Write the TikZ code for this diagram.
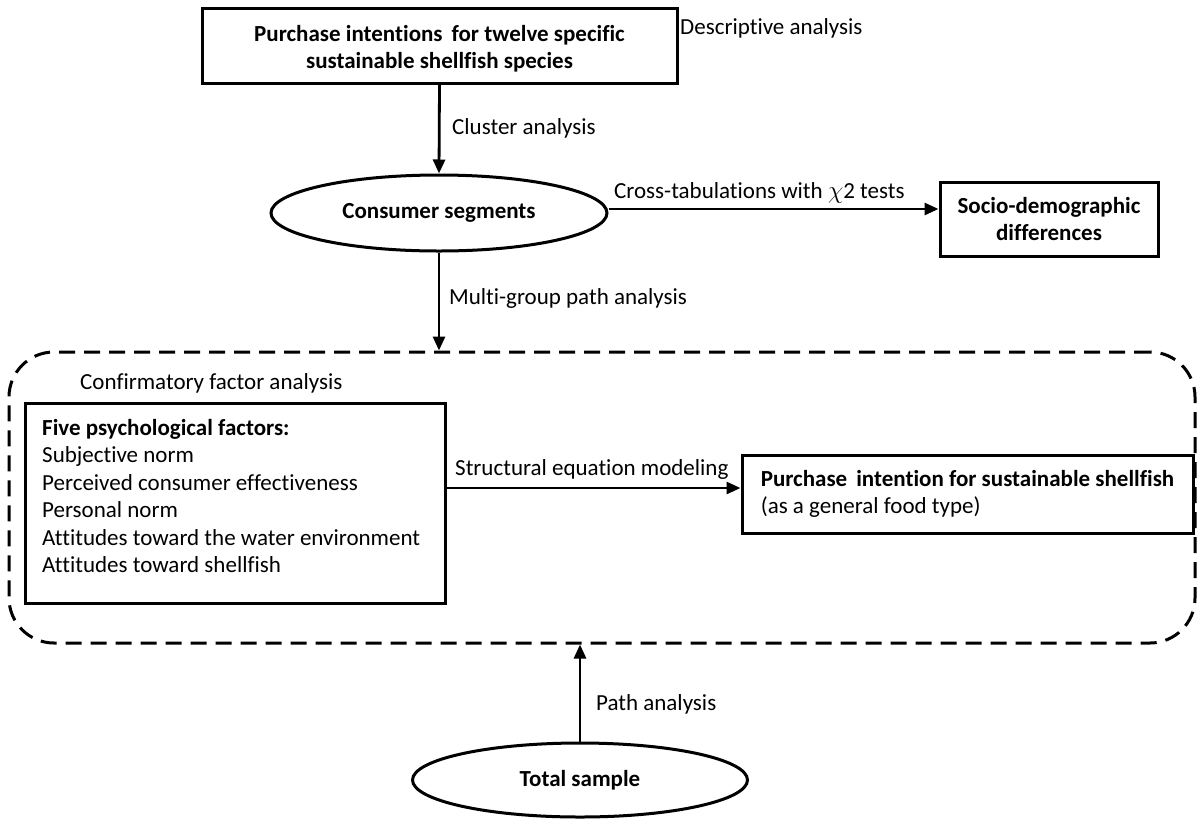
\documentclass[tikz,border=0pt]{standalone}
\usepackage{fontspec}
\setmainfont{Carlito}[Ligatures=NoCommon]
\usetikzlibrary{arrows.meta,shapes.geometric,calc}
\begin{document}
\begin{tikzpicture}[x=1pt,y=-1pt,
  every node/.style={font=\fontsize{23}{27.5}\selectfont, text=black},
  boxnode/.style={draw, line width=3pt, rectangle, inner sep=0pt},
  ellnode/.style={draw, line width=3pt, ellipse, inner sep=0pt, font=\fontsize{23}{27.5}\selectfont\bfseries},
  arr/.style={line width=2.8pt, -{Triangle[length=14pt,width=12pt]}},
  lab/.style={anchor=base west, inner sep=0pt},
  grpbox/.style={draw, line width=3pt, dash pattern=on 16pt off 9pt, rounded corners=45pt, rectangle, inner sep=0pt}
]
\useasboundingbox (0,0) rectangle (1199,820);

% nodes
\node[boxnode, minimum width=475pt, minimum height=75pt] (top) at (439.5,45.5) {};
\node[align=center, inner sep=0pt, font=\fontsize{23}{27}\selectfont\bfseries] (toptxt) at (439.5,49)
  {Purchase intentions\, for twelve specific\\sustainable shellfish species};
\node[ellnode, minimum width=336pt, minimum height=76pt] (cons) at (439,213) {Consumer segments};
\node[boxnode, minimum width=218pt, minimum height=74pt, align=center, font=\fontsize{23}{26.5}\selectfont\bfseries] (socio) at (1049,219)
  {Socio-demographic\\differences};
\node[grpbox, minimum width=1186pt, minimum height=291pt] (grp) at (602,497.5) {};
\node[boxnode, minimum width=420pt, minimum height=200pt] (fac) at (235,503) {};
\node[anchor=north west, align=left, inner sep=0pt] (factxt) at (42,419)
  {\textbf{Five psychological factors:}\\Subjective norm\\Perceived consumer effectiveness\\Personal norm\\Attitudes toward the water environment\\Attitudes toward shellfish};
\node[boxnode, minimum width=451pt, minimum height=78pt, align=left] (pi) at (967.5,494)
  {\textbf{Purchase\, intention for sustainable shellfish}\\(as a general food type)};
\node[ellnode, minimum width=335pt, minimum height=74pt] (tot) at (580,780) {Total sample};

% connectors
\draw[arr] (top.south) -- (cons.north);
\draw[arr] ([yshift=4pt]cons.east) -- ([yshift=4pt]cons.east -| socio.west);
\draw[arr] (cons.south) -- (cons.south |- grp.north);
\draw[arr] ([yshift=6pt]pi.west -| fac.east) -- ([yshift=6pt]pi.west);
\draw[arr] (tot.north) -- (tot.north |- grp.south);

% labels
\node[lab] (ldesc) at (680,34) {Descriptive analysis};
\node[lab] (lclus) at (452,134) {Cluster analysis};
\node[lab] (lcross) at (614,198) {Cross-tabulations with $\chi$2 tests};
\node[lab] (lmulti) at (449,304) {Multi-group path analysis};
\node[lab] (lconf) at (80,389) {Confirmatory factor analysis};
\node[lab] (lsem) at (455,475) {Structural equation modeling};
\node[lab] (lpath) at (596,710) {Path analysis};
\end{tikzpicture}
\end{document}
